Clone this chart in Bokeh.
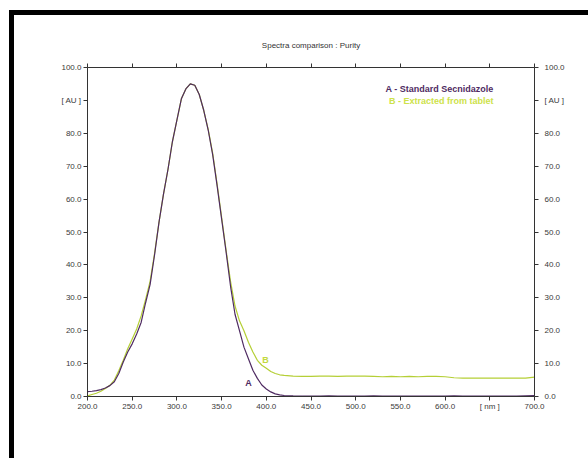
from bokeh.plotting import figure
from bokeh.models import Range1d, LinearAxis, FixedTicker, Label
from bokeh.embed import file_html
from bokeh.resources import INLINE

# ---- data ----
wavelength = [200, 205, 210, 215, 220, 225, 230, 235, 240, 245, 250, 255, 260, 265,
              270, 275, 280, 285, 290, 295, 300, 305, 310, 315, 320, 325, 330, 335,
              340, 345, 350, 355, 360, 365, 370, 375, 380, 385, 390, 395, 400, 405,
              410, 415, 420, 430, 440, 450, 460, 470, 480, 490, 500, 510, 520, 530,
              540, 550, 560, 570, 580, 590, 600, 610, 620, 630, 640, 650, 660, 670,
              680, 690, 700]

standard_A = [1.5, 1.6, 1.8, 2.1, 2.6, 3.3, 4.5, 7.0, 10.5, 13.5, 16.0, 19.0, 22.5, 28.5,
              34.0, 43.0, 53.0, 61.5, 69.0, 77.5, 84.0, 90.5, 93.5, 95.0, 94.6, 91.8, 87.0, 81.0,
              73.5, 64.0, 54.0, 44.0, 33.5, 25.0, 20.0, 15.0, 11.5, 8.0, 5.5, 3.5, 2.3, 1.4,
              0.8, 0.5, 0.3, 0.2, 0.15, 0.1, 0.1, 0.2, 0.1, 0.1, 0.15, 0.1, 0.2, 0.1,
              0.1, 0.1, 0.15, 0.1, 0.1, 0.1, 0.1, 0.2, 0.1, 0.1, 0.15, 0.1, 0.1, 0.1,
              0.1, 0.2, 0.3]

extracted_B = [0.2, 0.6, 1.0, 1.6, 2.4, 3.4, 5.0, 7.8, 11.0, 14.5, 17.5, 20.5, 24.5, 29.5,
               35.0, 43.5, 53.0, 61.5, 69.0, 77.5, 84.0, 90.5, 93.5, 95.0, 94.6, 91.8, 87.0, 81.2,
               74.0, 64.5, 54.5, 44.5, 35.0, 27.5, 23.0, 20.0, 16.5, 13.5, 11.0, 9.5, 8.6, 7.6,
               7.0, 6.6, 6.4, 6.2, 6.1, 6.1, 6.2, 6.2, 6.1, 6.2, 6.2, 6.2, 6.1, 6.0,
               6.1, 6.0, 6.1, 6.0, 6.1, 6.1, 6.0, 5.7, 5.6, 5.6, 5.6, 5.6, 5.6, 5.6,
               5.6, 5.6, 5.9]

x_ticks = [200, 250, 300, 350, 400, 450, 500, 550, 600, 650, 700]
y_ticks = [0, 10, 20, 30, 40, 50, 60, 70, 80, 90, 100]
x_unit_label = "[ nm ]"
y_unit_label = "[ AU ]"
title_text = "Spectra comparison : Purity"
name_A = "A - Standard Secnidazole"
name_B = "B - Extracted from tablet"

COL_A = "#4f2b62"
COL_B = "#b5cf36"
FONT = "Liberation Sans"
AXC = "#333333"

# frame position in the 588x458 canvas
FL, FR, FT, FB = 87, 534, 67, 396
W, H = 588, 458

p = figure(width=W, height=H, output_backend="svg", toolbar_location=None,
           x_range=Range1d(200, 700), y_range=Range1d(0, 100),
           x_axis_location=None, y_axis_location=None,
           min_border_left=FL, min_border_right=W - FR,
           min_border_top=FT, min_border_bottom=H - FB)
p.grid.visible = False
p.outline_line_color = None
p.background_fill_color = "white"
p.border_fill_color = None
# black frame bars (top and left) of the original picture, drawn as page background
p.styles = {
    "background": ("linear-gradient(#000,#000) 9px 10px / 579px 5px no-repeat, "
                   "linear-gradient(#000,#000) 9px 10px / 5px 448px no-repeat, #ffffff"),
}

p.title.text = title_text
p.title.align = "center"
p.title.text_font = FONT
p.title.text_font_size = "8px"
p.title.text_font_style = "normal"
p.title.text_color = "#333333"
p.title.standoff = 28

x_over = {t: f"{t:.1f}" for t in x_ticks}
x_over[650] = x_unit_label
y_over = {t: f"{t:.1f}" for t in y_ticks}
y_over[90] = y_unit_label


def style(ax):
    ax.axis_line_color = AXC
    ax.axis_line_width = 1
    ax.major_tick_line_color = AXC
    ax.major_tick_in = 0
    ax.major_tick_out = 4
    ax.minor_tick_line_color = None
    ax.major_label_text_font = FONT
    ax.major_label_text_font_size = "8px"
    ax.major_label_text_color = "#3a3a3a"


bottom = LinearAxis(ticker=FixedTicker(ticks=x_ticks), major_label_overrides=x_over)
style(bottom)
bottom.major_label_standoff = 1
top = LinearAxis(ticker=FixedTicker(ticks=x_ticks),
                 major_label_overrides={t: "" for t in x_ticks})
style(top)
top.major_label_standoff = 0
left = LinearAxis(ticker=FixedTicker(ticks=y_ticks), major_label_overrides=y_over)
style(left)
left.major_label_standoff = 2
right = LinearAxis(ticker=FixedTicker(ticks=y_ticks), major_label_overrides=y_over)
style(right)
right.major_label_standoff = 6
p.add_layout(bottom, "below")
p.add_layout(top, "above")
p.add_layout(left, "left")
p.add_layout(right, "right")

p.line(wavelength, extracted_B, line_color=COL_B, line_width=1.2)
p.line(wavelength, standard_A, line_color=COL_A, line_width=1.2)

# legend texts
p.add_layout(Label(x=(493 - FL), y=(FB - 88), x_units="screen", y_units="screen",
                   text=name_A, text_font=FONT, text_font_size="9px", text_font_style="bold",
                   text_color=COL_A, text_align="right", text_baseline="middle"))
p.add_layout(Label(x=(493 - FL), y=(FB - 100), x_units="screen", y_units="screen",
                   text=name_B, text_font=FONT, text_font_size="9px", text_font_style="bold",
                   text_color="#cde24a", text_align="right", text_baseline="middle"))
# curve letters
p.add_layout(Label(x=380, y=4, text="A", text_font=FONT, text_font_size="9px",
                   text_font_style="bold", text_color=COL_A, text_align="center",
                   text_baseline="middle"))
p.add_layout(Label(x=399, y=11, text="B", text_font=FONT, text_font_size="9px",
                   text_font_style="bold", text_color="#c3da3e", text_align="center",
                   text_baseline="middle"))

open("out.html", "w").write(file_html(p, INLINE))
